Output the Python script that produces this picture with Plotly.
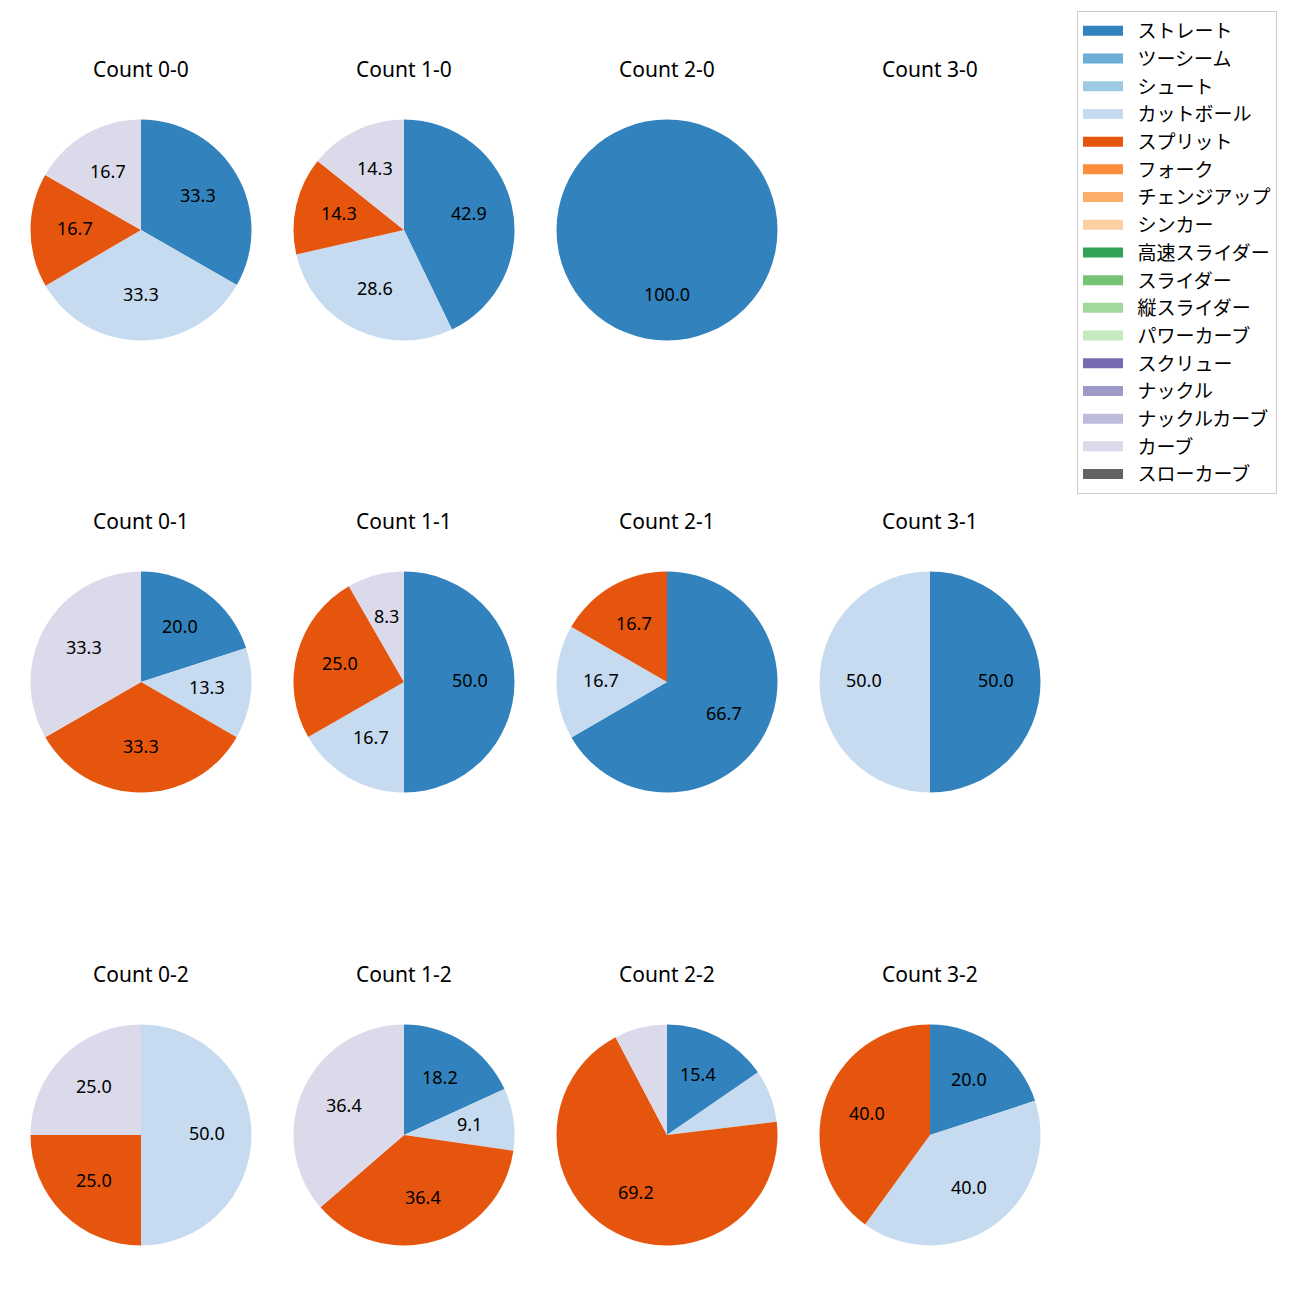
import math
import plotly.graph_objects as go

# ---- data ----
pitch_types = ["ストレート", "ツーシーム", "シュート", "カットボール", "スプリット", "フォーク",
               "チェンジアップ", "シンカー", "高速スライダー", "スライダー", "縦スライダー",
               "パワーカーブ", "スクリュー", "ナックル", "ナックルカーブ", "カーブ", "スローカーブ"]
pitch_colors = ["#3182bd", "#6baed6", "#9ecae1", "#c6dbef", "#e6550d", "#fd8d3c",
                "#fdae6b", "#fdd0a2", "#31a354", "#74c476", "#a1d99b",
                "#c7e9c0", "#756bb1", "#9e9ac8", "#bcbddc", "#dadaeb", "#636363"]

count_labels = ["0-0", "1-0", "2-0", "3-0",
                "0-1", "1-1", "2-1", "3-1",
                "0-2", "1-2", "2-2", "3-2"]
straight = [33.3, 42.9, 100.0, 0, 20.0, 50.0, 66.7, 50.0, 0, 18.2, 15.4, 20.0]
cutter   = [33.3, 28.6, 0, 0, 13.3, 16.7, 16.7, 50.0, 50.0, 9.1, 7.7, 40.0]
split    = [16.7, 14.3, 0, 0, 33.3, 25.0, 16.7, 0, 25.0, 36.4, 69.2, 40.0]
curve    = [16.7, 14.3, 0, 0, 33.3, 8.3, 0, 0, 25.0, 36.4, 7.7, 0]

series = [("ストレート", straight), ("カットボール", cutter), ("スプリット", split), ("カーブ", curve)]
color_of = dict(zip(pitch_types, pitch_colors))

# ---- layout constants ----
W = H = 1300
col_cx = [141, 404, 667, 930]
row_cy = [230, 682, 1135]
title_dy = 161
R = 110.5
FONT_LATIN = "Noto Sans, DejaVu Sans, sans-serif"
FONT_CJK = "Noto Sans CJK JP, Noto Sans, sans-serif"
label_threshold = 8.0

fig = go.Figure()
annotations = []

for i, cnt in enumerate(count_labels):
    r, c = divmod(i, 4)
    cx, cy = col_cx[c], row_cy[r]
    annotations.append(dict(text=f"Count {cnt}", x=cx / W, y=1 - (cy - title_dy) / H,
                            xref="paper", yref="paper", xanchor="center", yanchor="middle",
                            showarrow=False,
                            font=dict(size=21, color="#000", family=FONT_LATIN)))
    labels = [name for name, vals in series if vals[i] > 0]
    values = [vals[i] for name, vals in series if vals[i] > 0]
    if not values:
        continue
    fig.add_trace(go.Pie(
        labels=labels, values=values, sort=False, direction="clockwise", rotation=0,
        marker=dict(colors=[color_of[l] for l in labels], line=dict(width=0)),
        textinfo="none", hoverinfo="label+percent", showlegend=False,
        domain=dict(x=[(cx - R) / W, (cx + R) / W], y=[1 - (cy + R) / H, 1 - (cy - R) / H]),
    ))
    total = sum(values)
    cum = 0.0
    for v in values:
        frac = v / total
        theta = 2 * math.pi * (cum + frac / 2)
        cum += frac
        if v < label_threshold:
            continue
        px = cx + 0.6 * R * math.sin(theta)
        py = cy - 0.6 * R * math.cos(theta)
        annotations.append(dict(text=f"{v:.1f}", x=px / W, y=1 - py / H, xref="paper", yref="paper",
                                xanchor="center", yanchor="middle", showarrow=False, yshift=2,
                                font=dict(size=18, color="#000", family=FONT_LATIN)))

# legend entries
for name, col in zip(pitch_types, pitch_colors):
    fig.add_trace(go.Scatter(x=[None], y=[None], mode="lines", line=dict(color=col, width=13),
                             name="\u2002" + name, legendgroup=name, showlegend=True, hoverinfo="skip"))

fig.update_layout(
    width=W, height=H, margin=dict(l=0, r=0, t=0, b=0),
    paper_bgcolor="white", plot_bgcolor="white",
    font=dict(family=FONT_CJK, size=14, color="#000"),
    xaxis=dict(visible=False), yaxis=dict(visible=False),
    annotations=annotations,
    legend=dict(x=1077 / W, y=1 - 11 / H, xanchor="left", yanchor="top",
                bordercolor="#cccccc", borderwidth=1, bgcolor="white",
                font=dict(size=19, family=FONT_CJK, color="#000"), tracegroupgap=0, itemwidth=40),
)

fig.write_html("out.html", config={"displayModeBar": False},
               post_script="document.body.style.margin='0';")
